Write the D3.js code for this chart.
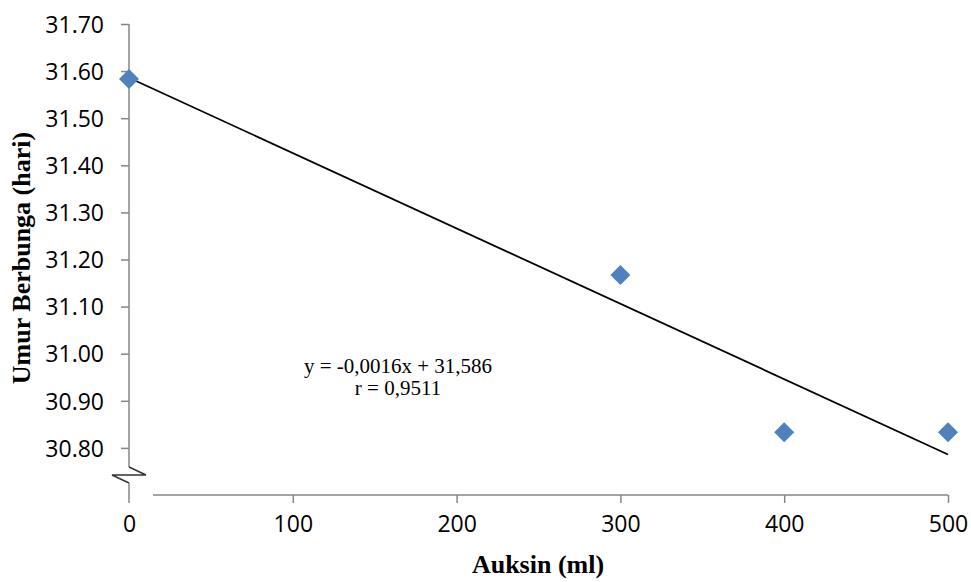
<!DOCTYPE html>
<html>
<head>
<meta charset="utf-8">
<script src="https://cdn.jsdelivr.net/npm/d3@7"></script>
<style>
    body { margin: 0; background: #fff; }
    .tick text { font-family: "Open Sans", sans-serif; font-size: 23px; fill: #000; }
    .tick line { stroke: #868686; }
    .axis-title { font-family: "Liberation Serif", serif; font-weight: bold; font-size: 26px; }
    .eq { font-family: "Liberation Serif", serif; font-size: 21px; }
</style>
</head>
<body>
<div id="chart"></div>
<script>
"use strict";

// data
var auksin = [0, 300, 400, 500];
var umurBerbunga = [31.583, 31.167, 30.833, 30.833];
var xTickValues = [0, 100, 200, 300, 400, 500];
var yTickValues = [30.8, 30.9, 31.0, 31.1, 31.2, 31.3, 31.4, 31.5, 31.6, 31.7];
var trendSlope = -0.0016;
var trendIntercept = 31.586;
var trendRange = [0, 500];
var equationLines = ["y = -0,0016x + 31,586", "r = 0,9511"];

var width = 971, height = 582;
var axisColor = "#868686";

var svg = d3.select("#chart")
    .append("svg")
    .attr("width", width)
    .attr("height", height);

var x = d3.scaleLinear().domain([0, 500]).range([129, 948]);
var y = d3.scaleLinear().domain([30.7, 31.7]).range([495, 24]);

// y axis (ticks only, the line is drawn by hand because of the break)
var yAxis = svg.append("g")
    .attr("transform", "translate(" + x(0) + ",0)")
    .call(d3.axisLeft(y)
        .tickValues(yTickValues)
        .tickFormat(d3.format(".2f"))
        .tickSize(8)
        .tickPadding(17)
        .tickSizeOuter(0));
yAxis.select(".domain").remove();
yAxis.selectAll(".tick text").attr("dy", "0.36em");

var xAxis = svg.append("g")
    .attr("transform", "translate(0," + y(30.7) + ")")
    .call(d3.axisBottom(x)
        .tickValues(xTickValues)
        .tickSize(8)
        .tickPadding(13)
        .tickSizeOuter(0));
xAxis.select(".domain").remove();
xAxis.selectAll(".tick line").filter(function (d) { return d === 0; }).remove();

// axis lines with the break mark
var x0 = x(0), yBottom = y(30.7);
var brk = yBottom - 24;
svg.append("line")
    .attr("x1", x0).attr("x2", x0)
    .attr("y1", y(31.7)).attr("y2", brk - 4)
    .attr("stroke", axisColor).attr("stroke-width", 1.5);
svg.append("path")
    .attr("d", "M" + x0 + "," + (brk - 4) + "L" + (x0 + 17) + "," + (brk + 4) +
        "L" + (x0 - 17) + "," + (brk + 4) + "L" + x0 + "," + (brk + 12))
    .attr("fill", "none")
    .attr("stroke", "#333")
    .attr("stroke-width", 1.5);
svg.append("line")
    .attr("x1", x0).attr("x2", x0)
    .attr("y1", brk + 12).attr("y2", yBottom + 8)
    .attr("stroke", axisColor).attr("stroke-width", 1.5);
svg.append("line")
    .attr("x1", x0 + 24).attr("x2", x(500))
    .attr("y1", yBottom).attr("y2", yBottom)
    .attr("stroke", axisColor).attr("stroke-width", 1.5);
svg.selectAll(".tick line").attr("stroke-width", 1.5);

// trend line
svg.append("line")
    .attr("x1", x(trendRange[0]))
    .attr("y1", y(trendIntercept + trendSlope * trendRange[0]))
    .attr("x2", x(trendRange[1]))
    .attr("y2", y(trendIntercept + trendSlope * trendRange[1]))
    .attr("stroke", "#000")
    .attr("stroke-width", 1.8);

// points
var points = auksin.map(function (d, i) { return { x: d, y: umurBerbunga[i] }; });
svg.append("g")
    .selectAll("path")
    .data(points)
    .enter().append("path")
    .attr("transform", function (d) { return "translate(" + x(d.x) + "," + y(d.y) + ")"; })
    .attr("d", "M0,-10L10,0L0,10L-10,0Z")
    .attr("fill", "#4F81BD");

// equation
svg.append("g")
    .selectAll("text")
    .data(equationLines)
    .enter().append("text")
    .attr("class", "eq")
    .attr("x", 398)
    .attr("y", function (d, i) { return 373 + i * 22; })
    .attr("text-anchor", "middle")
    .text(function (d) { return d; });

// axis titles
svg.append("text")
    .attr("class", "axis-title")
    .attr("x", 538)
    .attr("y", 573)
    .attr("text-anchor", "middle")
    .text("Auksin (ml)");

svg.append("text")
    .attr("class", "axis-title")
    .attr("transform", "translate(30,258) rotate(-90)")
    .attr("text-anchor", "middle")
    .text("Umur Berbunga (hari)");
</script>
</body>
</html>
